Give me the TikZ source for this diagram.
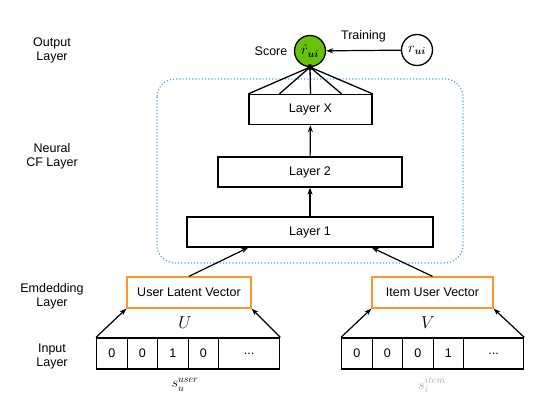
\documentclass[tikz,border=0pt]{standalone}
\usepackage{fontspec}
\setmainfont{Liberation Sans}
\usepackage{amsmath,bm}
\usetikzlibrary{arrows.meta,calc}
\definecolor{scoregreen}{RGB}{102,194,10}
\definecolor{embedorange}{RGB}{255,150,40}
\definecolor{cfblue}{RGB}{90,160,240}
\tikzset{
  layerbox/.style={draw,line width=1.3pt,inner sep=0pt,minimum height=30pt},
  embedbox/.style={draw=embedorange,line width=1.3pt,inner sep=0pt,minimum height=31pt},
  cellbox/.style={draw,line width=1.3pt,inner sep=0pt,minimum height=31pt,anchor=west},
  sidelabel/.style={align=center,font=\fontsize{12.5}{14}\selectfont},
  arr/.style={line width=1.2pt,-{Stealth[length=7pt,width=5pt]}}
}
\begin{document}
\begin{tikzpicture}[x=1pt,y=-1pt,font=\fontsize{12.5}{14}\selectfont]
\useasboundingbox (0,0) rectangle (536,401);
% side labels
\node[sidelabel] (lout) at (52,50) {Output\\Layer};
\node[sidelabel] (lcf) at (52,156) {Neural\\CF Layer};
\node[sidelabel] (lemb) at (52,296) {Emdedding\\Layer};
\node[sidelabel] (lin) at (52,356) {Input\\Layer};
%%%%
\draw[cfblue,dotted,line width=1.2pt,rounded corners=18pt] (157,79) rectangle (463,263);
\node[layerbox,minimum width=123pt] (lx) at (310.5,109.5) {Layer X};
\node[layerbox,minimum width=184pt] (l2) at (310,172) {Layer 2};
\node[layerbox,minimum width=246pt] (l1) at (310,232) {Layer 1};
\draw[arr] (l1) -- (l2);
\draw[arr] (l2) -- (lx);
% output
\node[draw,line width=1.3pt,circle,fill=scoregreen,minimum size=31pt,inner sep=0pt] (score) at (310,51) {\Large$\hat{r}_{\bm{ui}}$};
\node[draw,line width=1.3pt,circle,minimum size=31pt,inner sep=0pt] (target) at (417,50) {\Large$r_{\bm{ui}}$};
\node[left=3pt] (scorelbl) at (score.west) {Score};
\draw[arr] (target) -- node[above=4pt] {Training} (score);
\fill (score.south) circle (3pt);
\foreach \f in {0,0.25,0.5,0.75,1}
\draw[line width=1.3pt] (score.south) -- ($(lx.north west)!\f!(lx.north east)$);
% embedding
\node[embedbox,minimum width=124pt] (ulv) at (189,292.5) {User Latent Vector};
\node[embedbox,minimum width=121pt] (iuv) at (432.5,292.5) {Item User Vector};
\draw[arr] (ulv.north) -- ($(l1.south)!0.5!(l1.south west)$);
\draw[arr] (iuv.north) -- ($(l1.south)!0.5!(l1.south east)$);
% input
\foreach \v [count=\i from 0] in {0,0,1,0}
\node[cellbox,minimum width=30.5pt] (u\i) at (96+30.5*\i,353.5) {\v};
\node[cellbox,minimum width=61pt] (u4) at (218,353.5) {...};
\foreach \v [count=\i from 0] in {0,0,0,1}
\node[cellbox,minimum width=30.5pt] (v\i) at (341+30.5*\i,353.5) {\v};
\node[cellbox,minimum width=60pt] (v4) at (463,353.5) {...};
\draw[arr] (u0.north west) -- (ulv.south west);
\draw[arr] (u4.north east) -- (ulv.south east);
\draw[arr] (v0.north west) -- (iuv.south west);
\draw[arr] (v4.north east) -- (iuv.south east);
\node (ulbl) at (185,323) {\LARGE$U$};
\node (vlbl) at (428,323) {\LARGE$V$};
\node (slbl) at (185,385) {\Large$s_u^{user}$};
\node[black!35] (ilbl) at (432,385) {\Large$s_i^{item}$};
\end{tikzpicture}
\end{document}
